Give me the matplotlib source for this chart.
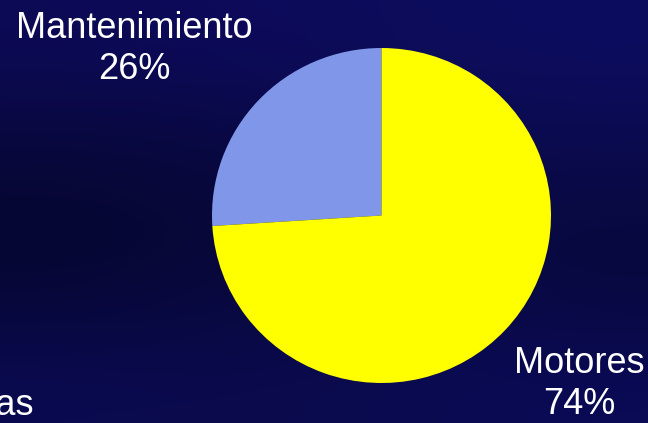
import numpy as np
import matplotlib.pyplot as plt

plt.rcParams['font.family'] = ['Liberation Sans', 'DejaVu Sans']

labels = ['Mantenimiento', 'Motores']
shares = [26, 74]
colors = ['#8096e8', '#ffff00']

W, H = 648, 423
fig = plt.figure(figsize=(W / 100, H / 100), dpi=100)

# navy slide background, darker band through the middle
bg = fig.add_axes([0, 0, 1, 1])
bg_rows = np.array([
    [[0.05, 0.04, 0.34], [0.05, 0.04, 0.36], [0.05, 0.05, 0.36], [0.05, 0.05, 0.38]],
    [[0.03, 0.03, 0.22], [0.03, 0.03, 0.24], [0.04, 0.04, 0.28], [0.04, 0.04, 0.30]],
    [[0.02, 0.02, 0.18], [0.03, 0.03, 0.22], [0.04, 0.04, 0.28], [0.03, 0.03, 0.22]],
    [[0.04, 0.04, 0.32], [0.04, 0.04, 0.30], [0.04, 0.04, 0.32], [0.04, 0.04, 0.34]],
])
bg.imshow(bg_rows, aspect='auto', interpolation='bicubic', extent=[0, 1, 0, 1])
bg.set_axis_off()

# pie box in pixels: x 212..551, y 48..383
ax = fig.add_axes([212 / W, 1 - 383 / H, 339 / W, 335 / H])
ax.pie(shares, colors=colors, startangle=90, counterclock=True,
       wedgeprops=dict(linewidth=0))
ax.set_aspect('auto')
ax.set_xlim(-1, 1)
ax.set_ylim(-1, 1)
ax.set_axis_off()

label_pos = [(134, 49), (579, 384)]
for lab, val, (px, py) in zip(labels, shares, label_pos):
    fig.text(px / W, 1 - py / H, f'{lab}\n{val}%', color='white', fontsize=26,
             ha='center', va='center', linespacing=1.25)

fig.text(34 / W, 1 - 405 / H, 'Otras', color='white', fontsize=26,
         ha='right', va='center')

fig.savefig('out.png', dpi=100)
